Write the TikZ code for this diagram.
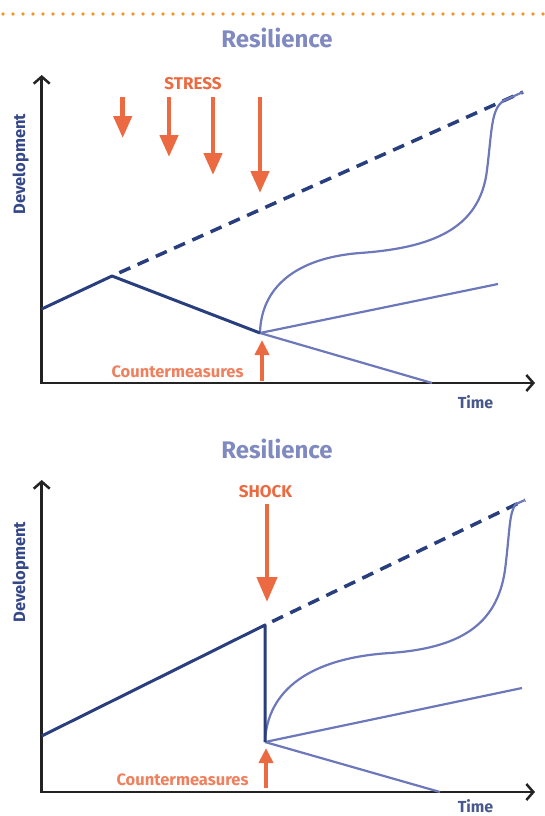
\documentclass[tikz,border=0pt]{standalone}
\usepackage{fontspec}
\setmainfont{Fira Sans}
\usetikzlibrary{arrows.meta}
\definecolor{dotc}{RGB}{240,150,42}
\definecolor{titlec}{RGB}{128,138,192}
\definecolor{navy}{RGB}{40,62,125}
\definecolor{branch}{RGB}{108,120,186}
\definecolor{stressc}{RGB}{236,106,66}
\definecolor{labelc}{RGB}{52,72,135}
\definecolor{timec}{RGB}{72,88,140}
\definecolor{axisc}{RGB}{35,35,35}
\tikzset{
  axisline/.style={draw=axisc, line width=2.5pt, line join=miter,
    arrows={Straight Barb[length=7pt,width=16pt]-Straight Barb[length=7pt,width=16pt]}},
  titletext/.style={anchor=base, text=titlec, font=\bfseries\fontsize{24}{28}\selectfont},
  devtext/.style={anchor=base, rotate=90, text=labelc, font=\bfseries\fontsize{16.5}{20}\selectfont},
  timetext/.style={anchor=base, text=timec, font=\bfseries\fontsize{16}{20}\selectfont},
  stresstext/.style={anchor=base, text=stressc, font=\bfseries\fontsize{17}{20}\selectfont},
  countertext/.style={anchor=base, text=stressc!85, font=\bfseries\fontsize{16.5}{20}\selectfont},
  stressarrow/.style={draw=stressc, fill=stressc, line width=4.5pt, -{Triangle[length=22pt,width=18pt]}},
  shockarrow/.style={draw=stressc, fill=stressc, line width=4.5pt, -{Triangle[length=25pt,width=20pt]}},
  counterarrow/.style={draw=stressc, fill=stressc, line width=4pt, -{Triangle[length=15pt,width=14pt]}},
  mainline/.style={draw=navy, line width=3pt, line join=round},
  dashline/.style={draw=navy, line width=3.5pt, dash pattern=on 12pt off 8pt, dash phase=12pt},
  branchline/.style={draw=branch, line width=2.2pt, line join=round},
}
\begin{document}
\begin{tikzpicture}[x=1pt,y=-1pt]
\useasboundingbox (0,0) rectangle (544,816);
% dotted rule
\foreach \i in {0,...,54} \fill[dotc] (3+\i*10,14) circle (1.8);

% ================= Panel 1 =================
\node[titletext] (title1) at (277,48) {Resilience};
\coordinate (o1) at (41.7,383);
\coordinate (y1) at (41.7,75);
\coordinate (x1) at (535,383);
\draw[axisline] (y1) -- (o1) -- (x1);
\node[devtext] (dev1) at (25,164) {Development};
\node[timetext] (time1) at (475.5,408) {Time};
\node[stresstext] (stress) at (193,89.5) {STRESS};
\coordinate (s1a) at (122.7,97); \coordinate (s1b) at (122.7,138);
\coordinate (s2a) at (169,97);   \coordinate (s2b) at (169,157);
\coordinate (s3a) at (213,97);   \coordinate (s3b) at (213,175);
\coordinate (s4a) at (260,97);   \coordinate (s4b) at (260,193);
\draw[stressarrow] (s1a) -- (s1b);
\draw[stressarrow] (s2a) -- (s2b);
\draw[stressarrow] (s3a) -- (s3b);
\draw[stressarrow] (s4a) -- (s4b);

\coordinate (a1) at (41.7,309);
\coordinate (peak1) at (112,276);
\coordinate (tr1) at (260,333);
\coordinate (end1) at (523,92);
\coordinate (up1) at (498,284);
\coordinate (low1) at (432,383);
\coordinate (j1) at (503,101);
\draw[dashline] (peak1) -- (end1);
\draw[branchline] (tr1) -- (up1);
\draw[branchline] (tr1) -- (low1);
\draw[branchline] (tr1) .. controls (261,288) and (295,258) .. (360,253)
   .. controls (430,248) and (480,230) .. (487,170)
   .. controls (492,130) and (491,110) .. (j1) -- (end1);
\draw[mainline] (a1) -- (peak1) -- (tr1);
\node[countertext] (cm1) at (177.5,377) {Countermeasures};
\coordinate (c1a) at (262,381); \coordinate (c1b) at (262,340);
\draw[counterarrow] (c1a) -- (c1b);

% ================= Panel 2 =================
\node[titletext] (title2) at (277,458) {Resilience};
\coordinate (o2) at (41.7,792);
\coordinate (y2) at (41.7,480);
\coordinate (x2) at (535,792);
\draw[axisline] (y2) -- (o2) -- (x2);
\node[devtext] (dev2) at (25,572) {Development};
\node[timetext] (time2) at (475.5,812) {Time};
\node[stresstext] (shock) at (265.5,497) {SHOCK};
\coordinate (sha) at (267,504); \coordinate (shb) at (267,602);
\draw[shockarrow] (sha) -- (shb);

\coordinate (a2) at (41.7,736);
\coordinate (peak2) at (265,625);
\coordinate (tr2) at (265,742);
\coordinate (end2) at (525,500);
\coordinate (up2) at (522,688);
\coordinate (low2) at (440,792);
\coordinate (j2) at (516,504);
\draw[dashline] (peak2) -- (end2);
\draw[branchline] (tr2) -- (up2);
\draw[branchline] (tr2) -- (low2);
\draw[branchline] (tr2) .. controls (267,690) and (310,658) .. (390,653)
   .. controls (460,648) and (497,625) .. (505,570)
   .. controls (510,530) and (509,512) .. (j2) -- (end2);
\draw[mainline] (a2) -- (peak2) -- (tr2);
\node[countertext] (cm2) at (182.5,785) {Countermeasures};
\coordinate (c2a) at (266,788); \coordinate (c2b) at (266,748);
\draw[counterarrow] (c2a) -- (c2b);
\end{tikzpicture}
\end{document}
